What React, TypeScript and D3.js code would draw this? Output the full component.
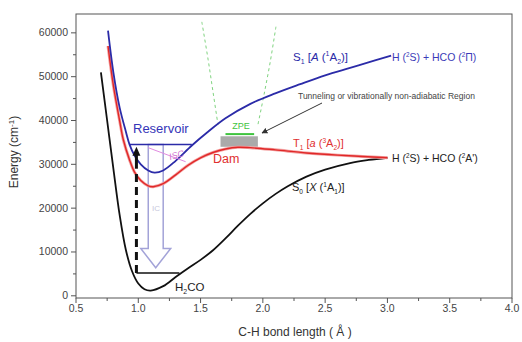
import React from 'react';
import * as d3 from 'd3';

// potential energy curves (bond length in Å, energy in cm-1)
const s0Bond = [0.7, 0.75, 0.8, 0.85, 0.9, 0.95, 1.0, 1.05, 1.1, 1.2, 1.3, 1.4, 1.5, 1.6, 1.7, 1.8, 1.9, 2.0, 2.1, 2.2, 2.35, 2.5, 2.7, 2.85, 3.0];
const s0Energy = [51000, 40000, 29000, 18500, 10500, 5600, 2800, 1500, 1200, 2200, 4300, 6300, 8200, 10400, 13100, 16000, 18700, 21100, 23200, 25000, 27200, 28800, 30300, 31000, 31500];

const t1Bond = [0.757, 0.8, 0.85, 0.88, 0.93, 0.97, 1.02, 1.08, 1.12, 1.2, 1.3, 1.4, 1.5, 1.6, 1.7, 1.8, 1.9, 2.1, 2.35, 2.6, 2.8, 3.0];
const t1Energy = [57000, 48000, 40000, 35600, 31000, 28200, 26300, 25100, 24900, 25600, 27600, 29800, 31500, 32700, 33500, 33900, 33800, 33300, 32600, 32100, 31800, 31500];

const s1Bond = [0.757, 0.8, 0.85, 0.9, 0.93, 0.97, 1.02, 1.08, 1.13, 1.2, 1.3, 1.43, 1.55, 1.7, 1.9, 2.1, 2.3, 2.5, 2.7, 2.9, 3.03];
const s1Energy = [60500, 51000, 43000, 37500, 34500, 32000, 30000, 28600, 28100, 28600, 30800, 34300, 37200, 40500, 43800, 46200, 48300, 50300, 52000, 53700, 54800];

// guide lines for the barrier region (dashed green)
const guideLeftBond = [1.51, 1.56, 1.6, 1.64];
const guideLeftEnergy = [62500, 54000, 46500, 39000];
const guideRightBond = [2.105, 2.06, 2.01, 1.96];
const guideRightEnergy = [61400, 53500, 46000, 39000];

// levels
const reservoirLevel = 34500;
const reservoirBond = [0.93, 1.43];
const zpeLevel = 5200;
const zpeBond = [0.985, 1.33];
const barrierBox = { bond: [1.66, 1.96], energy: [34000, 36400] };

const xTicks = [0.5, 1.0, 1.5, 2.0, 2.5, 3.0, 3.5, 4.0];
const xTickLabels = ['0.5', '1.0', '1.5', '2.0', '2.5', '3.0', '3.5', '4.0'];
const yTicks = [0, 10000, 20000, 30000, 40000, 50000, 60000];
const yTickLabels = ['0', '10000', '20000', '30000', '40000', '50000', '60000'];

const FONT = 'Liberation Sans, Arial, sans-serif';

type Seg = { t: string; sub?: boolean; sup?: boolean; it?: boolean };

function Rich({ x, y, segs, fill, size }: { x: number; y: number; segs: Seg[]; fill: string; size: number }) {
    let shift = 0;
    return (
        <text x={x} y={y} fill={fill} fontSize={size} fontFamily={FONT}>
            {segs.map((s, i) => {
                const want = s.sub ? size * 0.3 : s.sup ? -size * 0.4 : 0;
                const dy = want - shift;
                shift = want;
                return (
                    <tspan key={i} dy={dy} fontSize={s.sub || s.sup ? size * 0.6 : size} fontStyle={s.it ? 'italic' : 'normal'}>
                        {s.t}
                    </tspan>
                );
            })}
        </text>
    );
}

export default function App() {
    const x = d3.scaleLinear().domain([0.5, 4.0]).range([76, 512]);
    const y = d3.scaleLinear().domain([-500, 64300]).range([298, 14]);

    const curve = (bx: number[], en: number[]) =>
        d3
            .line<number>()
            .x((_, i) => x(bx[i]))
            .y((_, i) => y(en[i]))
            .curve(d3.curveCatmullRom.alpha(0.5))(bx as any) as string;

    const xMinor = d3.range(0.5, 4.01, 0.25);
    const yMinor = d3.range(0, 64001, 5000);

    // hollow down arrow (IC) from the reservoir
    const shaftL = 1.08, shaftR = 1.2, headL = 1.02, headR = 1.26, headBase = 10800, tipE = 6400;
    const hollow = [
        [shaftL, reservoirLevel], [shaftL, headBase], [headL, headBase], [(shaftL + shaftR) / 2, tipE],
        [headR, headBase], [shaftR, headBase], [shaftR, reservoirLevel],
    ].map(p => `${x(p[0])},${y(p[1])}`).join(' ');

    const dashX = x(0.985);
    const arrowTop = y(34000);

    return (
        <svg width={522} height={342} style={{ position: 'absolute', left: 0, top: 0, background: '#fff' }}>
            <defs>
                <marker id="ah" viewBox="0 0 10 10" refX="9" refY="5" markerWidth="6" markerHeight="6" orient="auto">
                    <path d="M0,0 L10,5 L0,10 z" fill="#333" />
                </marker>
            </defs>

            {/* frame */}
            <rect x={76} y={14} width={436} height={284} fill="none" stroke="#555" strokeWidth={1} />

            {/* x ticks */}
            {xMinor.map((v, i) => (
                <line key={'xm' + i} x1={x(v)} x2={x(v)} y1={298} y2={Math.abs((v * 2) % 1) < 1e-6 ? 303 : 301} stroke="#555" />
            ))}
            {xTicks.map((v, i) => (
                <text key={'xt' + i} x={x(v)} y={312} textAnchor="middle" fontSize={10.5} fontFamily={FONT} fill="#444">
                    {xTickLabels[i]}
                </text>
            ))}
            {/* y ticks */}
            {yMinor.map((v, i) => (
                <line key={'ym' + i} y1={y(v)} y2={y(v)} x1={76} x2={v % 10000 === 0 ? 71 : 73} stroke="#555" />
            ))}
            {yTicks.map((v, i) => (
                <text key={'yt' + i} x={68} y={y(v) + 3.5} textAnchor="end" fontSize={10.5} fontFamily={FONT} fill="#444">
                    {yTickLabels[i]}
                </text>
            ))}

            {/* axis titles */}
            <text transform="translate(18,152) rotate(-90)" textAnchor="middle" fontSize={12} fontFamily={FONT} fill="#333">
                Energy (cm<tspan dy={-4} fontSize={8}>-1</tspan><tspan dy={4}>)</tspan>
            </text>
            <text x={295} y={336} textAnchor="middle" fontSize={12} fontFamily={FONT} fill="#333">
                C-H bond length ( Å )
            </text>

            {/* green guides */}
            <path d={curve(guideLeftBond, guideLeftEnergy)} fill="none" stroke="#7fd37f" strokeWidth={1} strokeDasharray="3 3" />
            <path d={curve(guideRightBond, guideRightEnergy)} fill="none" stroke="#7fd37f" strokeWidth={1} strokeDasharray="3 3" />

            {/* barrier ZPE box */}
            <rect
                x={x(barrierBox.bond[0])}
                y={y(barrierBox.energy[1])}
                width={x(barrierBox.bond[1]) - x(barrierBox.bond[0])}
                height={y(barrierBox.energy[0]) - y(barrierBox.energy[1])}
                fill="#aaa"
            />
            <line x1={x(1.7)} x2={x(1.93)} y1={y(36900)} y2={y(36900)} stroke="#3fc43f" strokeWidth={2} />
            <text x={241} y={129} textAnchor="middle" fontSize={9} fontFamily={FONT} fill="#3fc43f">ZPE</text>

            {/* hollow IC arrow */}
            <polygon points={hollow} fill="#fff" fillOpacity={0.4} stroke="#a3a3d8" strokeWidth={1.5} />
            <text x={156} y={211} textAnchor="middle" fontSize={8} fontFamily={FONT} fill="#c8c8dc">IC</text>

            {/* curves */}
            <path d={curve(s0Bond, s0Energy)} fill="none" stroke="#111" strokeWidth={1.8} />
            <path d={curve(t1Bond, t1Energy)} fill="none" stroke="#f3a0a0" strokeWidth={3} />
            <path d={curve(t1Bond, t1Energy)} fill="none" stroke="#e02828" strokeWidth={1.4} />
            <path d={curve(s1Bond, s1Energy)} fill="none" stroke="#2b2ba8" strokeWidth={1.8} />

            {/* ISC */}
            <line x1={x(1.08)} y1={y(33800)} x2={x(1.38)} y2={y(30600)} stroke="#e08ae0" strokeWidth={1} />
            <text x={170} y={160} fontSize={9} fontFamily={FONT} fill="#d070d0" fontStyle="italic" transform="rotate(-15,170,160)">ISC</text>

            {/* reservoir level */}
            <line x1={x(reservoirBond[0])} x2={x(reservoirBond[1])} y1={y(reservoirLevel)} y2={y(reservoirLevel)} stroke="#2b2ba8" strokeWidth={1.5} />
            {/* H2CO zpe level */}
            <line x1={x(zpeBond[0])} x2={x(zpeBond[1])} y1={y(zpeLevel)} y2={y(zpeLevel)} stroke="#111" strokeWidth={1.5} />

            {/* excitation */}
            <line x1={dashX} x2={dashX} y1={y(zpeLevel)} y2={y(27800)} stroke="#111" strokeWidth={3} strokeDasharray="8 5" />
            <line x1={dashX} x2={dashX} y1={y(29000)} y2={arrowTop + 7} stroke="#111" strokeWidth={3} />
            <path d={`M${dashX - 4},${arrowTop + 9} L${dashX},${arrowTop} L${dashX + 4},${arrowTop + 9} z`} fill="#111" />

            {/* tunneling annotation */}
            <line x1={322} y1={103} x2={262} y2={133} stroke="#333" strokeWidth={1} markerEnd="url(#ah)" />
            <text x={298} y={99} fontSize={8.5} fontFamily={FONT} fill="#444">Tunneling or vibrationally non-adiabatic Region</text>

            {/* labels */}
            <text x={133} y={133} fontSize={13} fontFamily={FONT} fill="#3535b8">Reservoir</text>
            <text x={213} y={163} fontSize={12.5} fontFamily={FONT} fill="#e03030">Dam</text>
            <Rich x={293} y={61} size={11.5} fill="#2b2ba8"
                segs={[{ t: 'S' }, { t: '1', sub: true }, { t: ' [' }, { t: 'A', it: true }, { t: ' (' }, { t: '1', sup: true }, { t: 'A' }, { t: '2', sub: true }, { t: ')]' }]} />
            <Rich x={392} y={61} size={10.5} fill="#3a3ab8"
                segs={[{ t: 'H (' }, { t: '2', sup: true }, { t: 'S) + HCO (' }, { t: '2', sup: true }, { t: 'Π)' }]} />
            <Rich x={293} y={147} size={11} fill="#e03030"
                segs={[{ t: 'T' }, { t: '1', sub: true }, { t: ' [' }, { t: 'a', it: true }, { t: ' (' }, { t: '3', sup: true }, { t: 'A' }, { t: '2', sub: true }, { t: ')]' }]} />
            <Rich x={392} y={162} size={10.5} fill="#222"
                segs={[{ t: 'H (' }, { t: '2', sup: true }, { t: 'S) + HCO (' }, { t: '2', sup: true }, { t: "A')" }]} />
            <Rich x={292} y={191} size={11} fill="#222"
                segs={[{ t: 'S' }, { t: '0', sub: true }, { t: ' [' }, { t: 'X', it: true }, { t: ' (' }, { t: '1', sup: true }, { t: 'A' }, { t: '1', sub: true }, { t: ')]' }]} />
            <Rich x={175} y={291} size={11.5} fill="#222"
                segs={[{ t: 'H' }, { t: '2', sub: true }, { t: 'CO' }]} />
        </svg>
    );
}
